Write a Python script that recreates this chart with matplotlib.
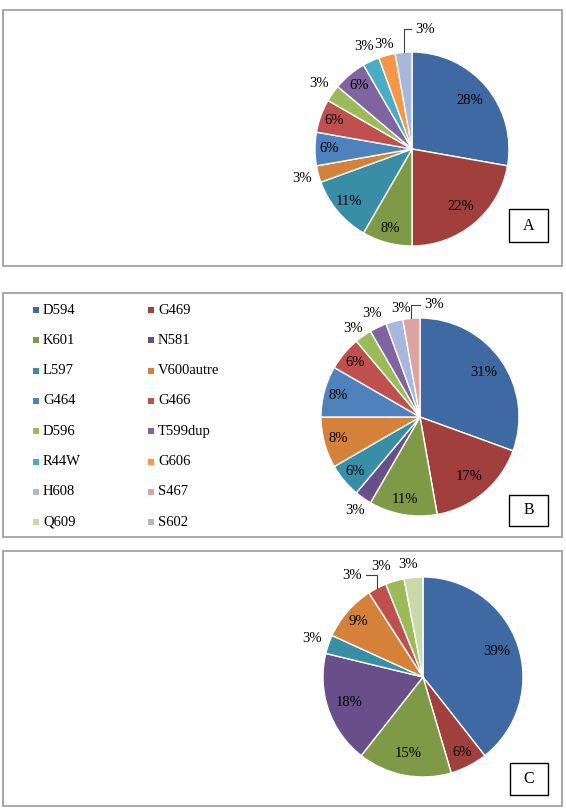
import numpy as np
import matplotlib
matplotlib.use("Agg")
import matplotlib.pyplot as plt
from matplotlib.patches import Rectangle

plt.rcParams["font.family"] = ["Liberation Serif", "DejaVu Serif"]

# ------------------------------------------------------------------------------
mutations = ["D594", "G469", "K601", "N581", "L597", "V600autre", "G464",
             "G466", "D596", "T599dup", "R44W", "G606", "H608", "S467",
             "Q609", "S602"]
colors = ["#3E69A3", "#A03F3C", "#7E9A46", "#684F89", "#388DA7", "#D6813A",
          "#4F81BD", "#C0504D", "#9BBB59", "#8064A2", "#4BACC6", "#F79646",
          "#A8B8DC", "#DCA3A2", "#C9DAA8", "#B9B0D2"]
counts_a = [10, 8, 3, 0, 4, 1, 2, 2, 1, 2, 1, 1, 1, 0, 0, 0]
counts_b = [11, 6, 4, 1, 2, 3, 3, 2, 1, 1, 0, 0, 1, 1, 0, 0]
counts_c = [13, 2, 5, 6, 1, 3, 0, 1, 1, 0, 0, 0, 0, 0, 1, 0]
panel_letters = ["A", "B", "C"]
# ------------------------------------------------------------------------------

W, H = 566, 808  # figure size in pixels
FS = 10.5


def fig_box(x0, y0, x1, y1):
    """Pixel box (top-left origin) -> figure fraction [l, b, w, h]."""
    return [x0 / W, 1 - y1 / H, (x1 - x0) / W, (y1 - y0) / H]


def draw_pie(fig, counts, cx, cy, r, nudges, out_r=1.17):
    half = 1.4 * r
    ax = fig.add_axes(fig_box(cx - half, cy - half, cx + half, cy + half))
    keep = [i for i, v in enumerate(counts) if v > 0]
    vals = [counts[i] for i in keep]
    total = float(sum(vals))
    wedges, _ = ax.pie(vals, colors=[colors[i] for i in keep], startangle=90,
                       counterclock=False, radius=1.0,
                       wedgeprops=dict(edgecolor="white", linewidth=1.0))
    # pie() resets the limits, so set them afterwards
    ax.set_xlim(-1.4, 1.4)
    ax.set_ylim(-1.4, 1.4)
    ax.set_aspect("equal")
    ax.axis("off")
    for w, i in zip(wedges, keep):
        pct = int(round(100 * counts[i] / total))
        mid = np.deg2rad(0.5 * (w.theta1 + w.theta2))
        name = mutations[i]
        if pct >= 6:
            rr = 0.78 if pct >= 15 else 0.85
            ax.text(rr * np.cos(mid), rr * np.sin(mid), "%d%%" % pct,
                    ha="center", va="center", fontsize=FS)
            continue
        d, rr, leader = nudges.get(name, (0.0, out_r, False))
        ang = mid + np.deg2rad(d)
        tx, ty = rr * np.cos(ang), rr * np.sin(ang)
        ax.text(tx, ty, "%d%%" % pct, ha="center", va="center", fontsize=FS)
        if leader:
            ex, ey = 1.0 * np.cos(mid), 1.0 * np.sin(mid)
            end = tx - 0.14 if tx > ex else tx + 0.14
            ax.plot([ex, ex, end], [ey, ty, ty], color="#404040", lw=0.8,
                    clip_on=False)
    return ax


fig = plt.figure(figsize=(W / 100, H / 100), dpi=100)

# panel frames
frames = [(3, 10.5, 561.5, 265.5), (3, 292.5, 561.5, 537), (3, 550.5, 561.5, 806)]
for x0, y0, x1, y1 in frames:
    l, b, w, h = fig_box(x0, y0, x1, y1)
    fig.patches.append(Rectangle((l, b), w, h, transform=fig.transFigure,
                                 fill=False, edgecolor="#A0A0A0", lw=1.3))

draw_pie(fig, counts_a, 412, 149, 97,
         {"H608": (-11, 1.24, True), "G606": (0, 1.12, False)})
draw_pie(fig, counts_b, 420, 417, 99,
         {"S467": (-12, 1.14, True), "H608": (-5, 1.11, False),
          "D596": (2, 1.12, False)}, out_r=1.15)
draw_pie(fig, counts_c, 423, 677, 100,
         {"G466": (7.5, 1.24, True), "D596": (4.6, 1.18, False),
          "Q609": (2, 1.13, False)})

# letter boxes
letter_boxes = [(509, 209, 548, 242), (509, 495, 548, 526), (510, 763, 548, 795)]
for (x0, y0, x1, y1), letter in zip(letter_boxes, panel_letters):
    l, b, w, h = fig_box(x0, y0, x1, y1)
    fig.patches.append(Rectangle((l, b), w, h, transform=fig.transFigure,
                                 facecolor="white", edgecolor="black", lw=1.0))
    fig.text(l + w / 2, b + h / 2, letter, ha="center", va="center",
             fontsize=11.5)

# legend of panel B (two columns, row-major)
lg = fig.add_axes([0, 0, 1, 1], zorder=-1)
lg.set_xlim(0, W)
lg.set_ylim(H, 0)
lg.axis("off")
col_x = [36, 151]
for i, name in enumerate(mutations):
    x = col_x[i % 2]
    y = 310 + 30.3 * (i // 2)
    lg.scatter([x], [y], marker="s", s=20, color=colors[i], linewidths=0)
    lg.text(x + 7, y, name, ha="left", va="center", fontsize=FS)

fig.savefig("out.png", dpi=100)
